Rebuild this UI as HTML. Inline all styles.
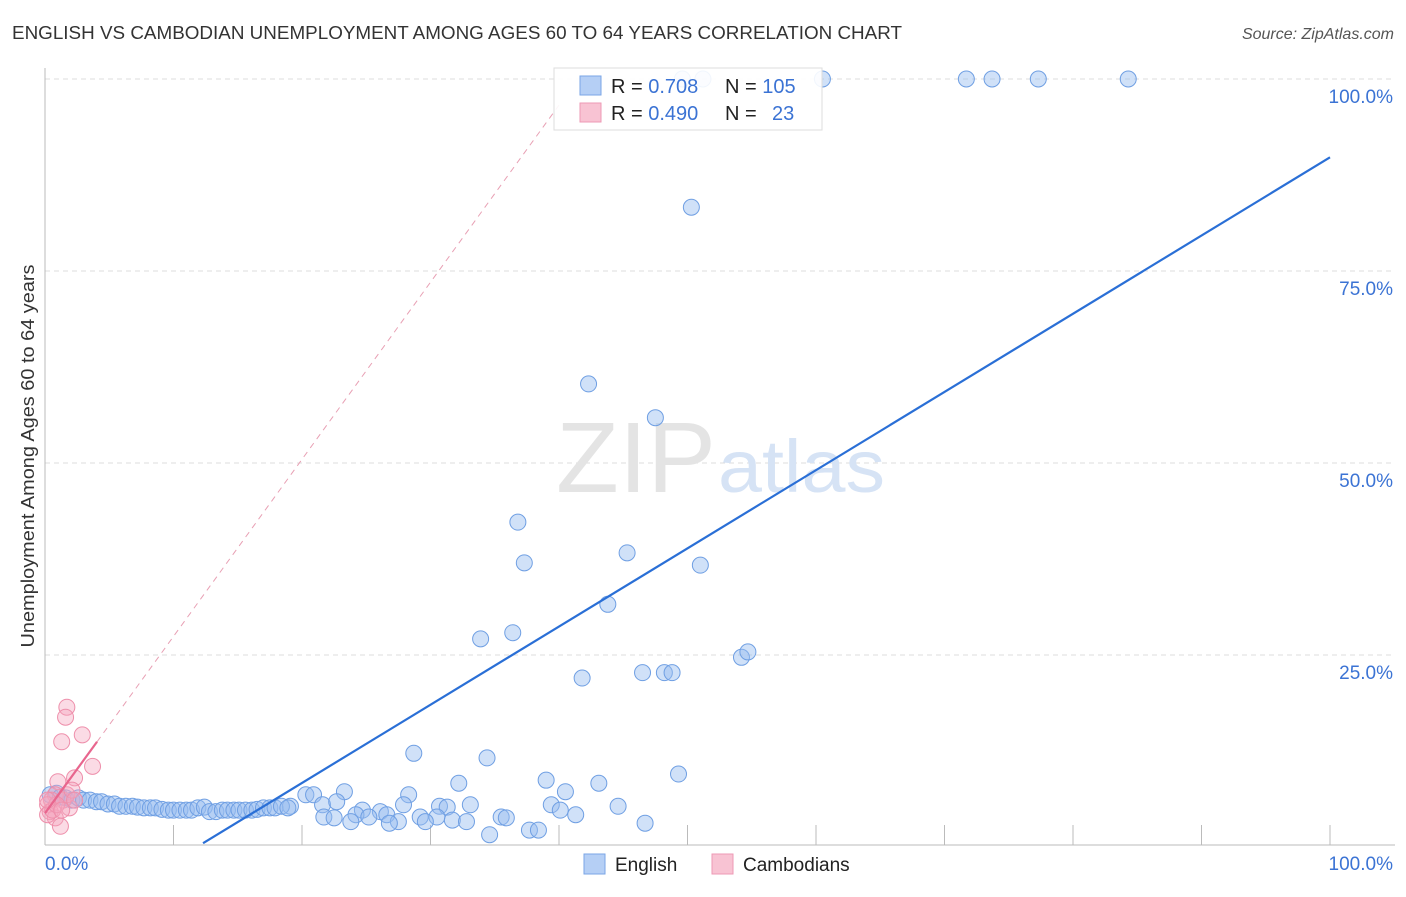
<!DOCTYPE html>
<html><head><meta charset="utf-8"><style>
body{margin:0;background:#fff;font-family:"Liberation Sans",sans-serif;}
svg text{font-family:"Liberation Sans",sans-serif;}
</style></head><body>
<svg id="chart" width="1406" height="892" xmlns="http://www.w3.org/2000/svg">
<text x="12" y="39" font-size="18" textLength="890" lengthAdjust="spacingAndGlyphs" fill="#333">ENGLISH VS CAMBODIAN UNEMPLOYMENT AMONG AGES 60 TO 64 YEARS CORRELATION CHART</text>
<text x="1394" y="39" font-size="16" fill="#555" text-anchor="end" font-style="italic">Source: ZipAtlas.com</text>
<text x="0" y="0" transform="translate(34,456) rotate(-90)" font-size="18" textLength="383" lengthAdjust="spacingAndGlyphs" fill="#333" text-anchor="middle">Unemployment Among Ages 60 to 64 years</text>
<g id="grid"></g>
<text x="716" y="492" font-size="100" textLength="160" lengthAdjust="spacingAndGlyphs" fill="#e4e4e4" text-anchor="end" font-family="Liberation Serif">ZIP</text>
<text x="718" y="492" font-size="74" textLength="167" lengthAdjust="spacingAndGlyphs" fill="#d6e3f5">atlas</text>
<g id="marks"></g>
<g>
<rect x="554" y="68" width="268" height="62" fill="#fff" fill-opacity="0.9" stroke="#ddd"/>
<rect x="580" y="76" width="21" height="19" fill="#b5cff5" stroke="#7aa5e6"/>
<rect x="580" y="103" width="21" height="19" fill="#f8c3d3" stroke="#ee9ab4"/>
<text x="611" y="93" font-size="20" fill="#222">R = <tspan fill="#3b73d4">0.708</tspan></text>
<text x="725" y="93" font-size="20" fill="#222">N = <tspan fill="#3b73d4">105</tspan></text>
<text x="611" y="120" font-size="20" fill="#222">R = <tspan fill="#3b73d4">0.490</tspan></text>
<text x="725" y="120" font-size="20" fill="#222">N = <tspan fill="#3b73d4" x="772">23</tspan></text>
</g>
<g>
<rect x="584" y="854" width="21" height="20" fill="#b5cff5" stroke="#7aa5e6"/>
<text x="615" y="871" font-size="19" fill="#222">English</text>
<rect x="712" y="854" width="21" height="20" fill="#f8c3d3" stroke="#ee9ab4"/>
<text x="743" y="871" font-size="19" fill="#222">Cambodians</text>
</g>
</svg>
<script>
const engX=[49.6,51.2,60.5,71.7,73.7,77.3,84.3,50.3,42.3,47.5,36.8,45.3,37.3,51.0,43.8,33.9,36.4,41.8,46.5,48.2,48.8,54.2,54.7,28.7,34.4,49.3,32.2,39.0,43.1,40.5,28.3,23.3,20.3,20.9,27.9,44.6,33.1,39.4,30.7,31.3,26.1,21.6,22.7,19.1,24.7,24.2,21.7,22.5,23.8,25.2,26.6,27.5,29.2,30.5,31.7,32.8,29.6,35.5,35.9,40.1,41.3,46.7,34.6,37.7,38.4,26.8,
0.4,0.9,1.2,1.6,2.1,2.6,3.0,3.5,4.0,4.4,4.9,5.4,5.8,6.3,6.8,7.2,7.7,8.2,8.6,9.1,9.6,10.0,10.5,11.0,11.4,11.9,12.4,12.8,13.3,13.8,14.2,14.7,15.1,15.6,16.1,16.5,17.0,17.5,17.9,18.4,18.9];
const engY=[100,100,100,100,100,100,100,83.3,60.3,55.9,42.3,38.3,37.0,36.7,31.6,27.1,27.9,22.0,22.7,22.7,22.7,24.7,25.4,12.2,11.6,9.5,8.3,8.7,8.3,7.2,6.8,7.2,6.8,6.8,5.5,5.3,5.5,5.5,5.3,5.2,4.6,5.5,5.9,5.3,4.8,4.2,3.9,3.8,3.3,3.9,4.2,3.3,3.9,3.9,3.5,3.3,3.3,3.9,3.8,4.8,4.2,3.1,1.6,2.2,2.2,3.1,
6.8,7.0,6.5,6.4,6.1,6.4,6.1,6.1,5.9,5.9,5.6,5.6,5.3,5.3,5.3,5.2,5.1,5.1,5.1,4.9,4.8,4.8,4.8,4.8,4.8,5.1,5.2,4.6,4.6,4.8,4.8,4.8,4.8,4.8,4.8,4.9,5.1,5.1,5.1,5.3,5.1];
const camX=[1.7,1.6,1.3,2.9,3.7,2.3,1.0,0.8,0.5,0.2,0.4,0.8,1.2,1.9,1.4,1.7,2.1,0.2,0.6,0.9,2.3,1.3,0.2];
const camY=[18.2,16.9,13.7,14.6,10.5,9.0,8.5,6.8,6.1,5.5,4.6,3.8,2.7,5.1,6.1,6.8,7.4,4.2,4.8,5.5,6.1,4.8,6.1];
const engTrend=[[12.3,0.5],[100,89.8]];
const camTrendSolid=[[0,4.4],[4.05,13.7]];
const camTrendDash=[[4.05,13.7],[40,96.6]];
const yTicks=[25,50,75,100];
const yTickLabels=["25.0%","50.0%","75.0%","100.0%"];
const xTicks=[0,10,20,30,40,50,60,70,80,90,100];

const NS="http://www.w3.org/2000/svg";
const X0=45,X1=1330,Y0=847,Y1=79;
function sx(v){return X0+(X1-X0)*v/100;}
function sy(v){return Y0-(Y0-Y1)*v/100;}
function mk(tag,attrs,parent){const e=document.createElementNS(NS,tag);for(const k in attrs)e.setAttribute(k,attrs[k]);parent.appendChild(e);return e;}
const grid=document.getElementById('grid'),marks=document.getElementById('marks');
yTicks.forEach((t,i)=>{
  const l=mk('line',{x1:X0,x2:1395,y1:sy(t),y2:sy(t),stroke:'#ddd','stroke-dasharray':'5,4'},grid);
  
  
  const tx=mk('text',{x:1393,y:sy(t)+24,'font-size':19,fill:'#3b73d4','text-anchor':'end'},grid);
  tx.textContent=yTickLabels[i];
  
  
});
const ax=mk('line',{x1:X0,x2:X0,y1:68,y2:845,stroke:'#bbb'},grid);


const bx=mk('line',{x1:X0,x2:1395,y1:845,y2:845,stroke:'#bbb'},grid);


xTicks.forEach(t=>{
  const l=mk('line',{x1:sx(t),x2:sx(t),y1:825,y2:845,stroke:'#bbb'},grid);
  
  
});
const xl0=mk('text',{x:45,y:870,'font-size':19,fill:'#3b73d4'},grid);xl0.textContent='0.0%';


const xl1=mk('text',{x:1393,y:870,'font-size':19,fill:'#3b73d4','text-anchor':'end'},grid);xl1.textContent='100.0%';



const cd=mk('line',{x1:sx(camTrendDash[0][0]),y1:sy(camTrendDash[0][1]),x2:sx(camTrendDash[1][0]),y2:sy(camTrendDash[1][1]),stroke:'#e8a0b4','stroke-dasharray':'6,5','stroke-width':1},marks);


engX.forEach((v,i)=>{
  const c=mk('circle',{cx:sx(v),cy:sy(engY[i]),r:8,fill:'rgba(150,188,240,0.45)',stroke:'#6f9fe3','stroke-width':1},marks);
  
  
});
camX.forEach((v,i)=>{
  const c=mk('circle',{cx:sx(v),cy:sy(camY[i]),r:8,fill:'rgba(245,165,190,0.4)',stroke:'#ee8fab','stroke-width':1},marks);
  
  
});
const et=mk('line',{x1:sx(engTrend[0][0]),y1:sy(engTrend[0][1]),x2:sx(engTrend[1][0]),y2:sy(engTrend[1][1]),stroke:'#2a6fd6','stroke-width':2.2},marks);


const ct=mk('line',{x1:sx(camTrendSolid[0][0]),y1:sy(camTrendSolid[0][1]),x2:sx(camTrendSolid[1][0]),y2:sy(camTrendSolid[1][1]),stroke:'#e8668e','stroke-width':2.2},marks);


</script>
</body></html>
